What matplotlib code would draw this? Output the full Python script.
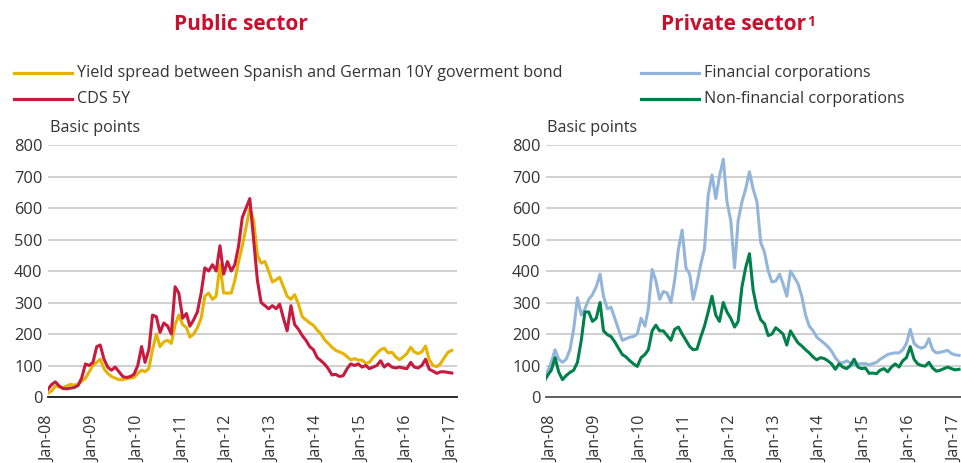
import matplotlib
matplotlib.use('Agg')
import matplotlib.pyplot as plt
from matplotlib.lines import Line2D
import pandas as pd

plt.rcParams['font.family'] = ['Open Sans', 'DejaVu Sans']

# ---------------- data ----------------
public_dates = pd.date_range('2008-01-01', '2017-01-01', freq='MS')
yield_spread = [12, 20, 35, 32, 30, 35, 40, 38, 40, 50, 60, 80,
                100, 110, 120, 90, 75, 65, 60, 55, 55, 58, 60, 62,
                75, 85, 80, 90, 150, 200, 160, 175, 180, 170, 230, 260,
                230, 220, 190, 200, 220, 250, 320, 330, 310, 320, 420, 330,
                330, 330, 370, 430, 480, 540, 600, 560, 450, 425, 430, 400,
                365, 372, 380, 350, 320, 310, 325, 295, 255, 245, 235, 228,
                212, 200, 182, 170, 158, 148, 143, 138, 128, 118, 122, 117,
                117, 107, 110, 125, 138, 150, 155, 140, 142, 128, 118, 127,
                138, 158, 143, 138, 143, 162, 118, 100, 96, 106, 125, 142, 148]
cds_5y = [25, 40, 48, 35, 27, 26, 28, 30, 36, 60, 105, 100,
          110, 160, 165, 120, 95, 85, 95, 80, 65, 62, 65, 72,
          100, 160, 110, 150, 260, 255, 205, 235, 225, 200, 350, 330,
          250, 265, 225, 245, 270, 330, 410, 400, 420, 400, 480, 390,
          430, 400, 420, 480, 570, 600, 630, 500, 370, 300, 290, 280,
          290, 280, 295, 250, 210, 290, 230, 215, 195, 180, 160, 150,
          125, 115, 105, 90, 70, 72, 65, 68, 90, 105, 100, 105,
          95, 100, 90, 95, 100, 115, 95, 105, 95, 92, 95, 92,
          90, 110, 95, 92, 100, 120, 88, 82, 75, 80, 80, 78, 76]

private_dates = pd.date_range('2007-11-01', '2017-02-01', freq='MS')
financial = [35, 80,
             110, 150, 120, 110, 120, 150, 215, 315, 260, 280, 310, 325,
             350, 390, 320, 280, 285, 250, 215, 180, 185, 190, 192, 200,
             250, 225, 280, 405, 370, 310, 335, 330, 300, 370, 470, 530,
             410, 390, 310, 360, 420, 470, 640, 705, 630, 700, 755, 620,
             560, 410, 560, 620, 660, 715, 660, 620, 490, 460, 400, 365,
             368, 390, 360, 320, 400, 380, 360, 320, 260, 225, 210, 190,
             180, 170, 160, 145, 125, 110, 108, 115, 108, 100, 105, 106,
             106, 102, 106, 110, 120, 127, 135, 138, 140, 140, 150, 170,
             215, 170, 160, 155, 160, 185, 150, 140, 142, 145, 148, 138,
             134, 132]
non_financial = [50, 68,
                 85, 125, 80, 55, 68, 78, 85, 110, 180, 270, 270, 240,
                 250, 300, 210, 198, 192, 175, 155, 135, 127, 115, 105, 97,
                 125, 135, 150, 210, 228, 210, 210, 195, 180, 215, 222, 200,
                 180, 160, 150, 152, 190, 225, 270, 320, 260, 240, 300, 270,
                 250, 222, 240, 350, 410, 455, 340, 280, 245, 233, 195, 200,
                 220, 210, 200, 165, 210, 190, 172, 162, 150, 140, 127, 118,
                 125, 122, 115, 105, 88, 105, 95, 90, 100, 120, 95, 90,
                 92, 75, 76, 74, 85, 90, 80, 95, 105, 95, 115, 125,
                 160, 120, 105, 100, 98, 110, 92, 82, 85, 90, 95, 90,
                 86, 88]

tick_years = list(range(2008, 2018))
tick_labels = ['Jan-08', 'Jan-09', 'Jan-10', 'Jan-11', 'Jan-12',
               'Jan-13', 'Jan-14', 'Jan-15', 'Jan-16', 'Jan-17']
y_ticks = [0, 100, 200, 300, 400, 500, 600, 700, 800]

public_labels = ['Yield spread between Spanish and German 10Y goverment bond', 'CDS 5Y']
private_labels = ['Financial corporations', 'Non-financial corporations']

# ---------------- style ----------------
C_YEL = '#E5B300'
C_RED = '#C8193F'
C_BLU = '#93B5DA'
C_GRN = '#00804A'
C_TTL = '#C8102E'
C_TXT = '#333333'
W, H = 961, 463

fig = plt.figure(figsize=(W / 100, H / 100), dpi=100)


def fx(px):
    return px / W


def fy(py):
    return 1 - py / H


def style_axes(ax, xlim):
    ax.set_ylim(0, 800)
    ax.set_xlim(pd.Timestamp(xlim[0]), pd.Timestamp(xlim[1]))
    ax.set_yticks(y_ticks)
    ax.set_xticks([pd.Timestamp(f'{y}-01-01') for y in tick_years])
    ax.set_xticklabels(tick_labels, rotation=90, va='top', ha='center')
    ax.tick_params(axis='x', length=0, pad=13.5, labelsize=11.5, colors=C_TXT)
    ax.tick_params(axis='y', length=0, pad=4, labelsize=11.8, colors=C_TXT)
    for s in ['top', 'right', 'left']:
        ax.spines[s].set_visible(False)
    ax.spines['bottom'].set_color('#1a1a1a')
    ax.spines['bottom'].set_linewidth(1.3)
    ax.grid(axis='y', color='#C4C4C4', linewidth=1.1)
    ax.set_axisbelow(True)


ax1 = fig.add_axes([fx(48), fy(397), fx(409), 252 / H])
ax1.plot(public_dates, yield_spread, color=C_YEL, lw=2.2)
ax1.plot(public_dates, cds_5y, color=C_RED, lw=2.2)
style_axes(ax1, ('2008-01-01', '2017-02-12'))

ax2 = fig.add_axes([fx(546), fy(397), fx(415), 252 / H])
ax2.plot(private_dates, financial, color=C_BLU, lw=2.2)
ax2.plot(private_dates, non_financial, color=C_GRN, lw=2.2)
style_axes(ax2, ('2007-11-19', '2017-02-17'))
ax2.spines['bottom'].set_color('#555555')

# titles
fig.text(fx(241), fy(25), 'Public sector', ha='center', va='center',
         fontsize=15, fontweight='bold', color=C_TTL)
t2 = fig.text(fx(734), fy(25), 'Private sector', ha='center', va='center',
              fontsize=15, fontweight='bold', color=C_TTL)
ax2.annotate('1', xy=(1.0, 1.0), xycoords=t2, xytext=(0.5, 0),
             textcoords='offset points', ha='left', va='top',
             fontsize=10, fontweight='bold', color=C_TTL,
             annotation_clip=False)


# legends
def legend_row(x0, x1, y, color, label):
    fig.add_artist(Line2D([fx(x0), fx(x1)], [fy(y), fy(y)], color=color,
                          lw=2.3, transform=fig.transFigure))
    fig.text(fx(x1 + 5), fy(y), label, ha='left', va='center',
             fontsize=11.6, color=C_TXT)


legend_row(14, 72, 73, C_YEL, public_labels[0])
legend_row(14, 72, 99, C_RED, public_labels[1])
legend_row(641, 699, 73, C_BLU, private_labels[0])
legend_row(641, 699, 99, C_GRN, private_labels[1])

fig.text(fx(50), fy(128), 'Basic points', ha='left', va='center',
         fontsize=11.6, color=C_TXT)
fig.text(fx(547), fy(128), 'Basic points', ha='left', va='center',
         fontsize=11.6, color=C_TXT)

fig.savefig('out.png', dpi=100)
